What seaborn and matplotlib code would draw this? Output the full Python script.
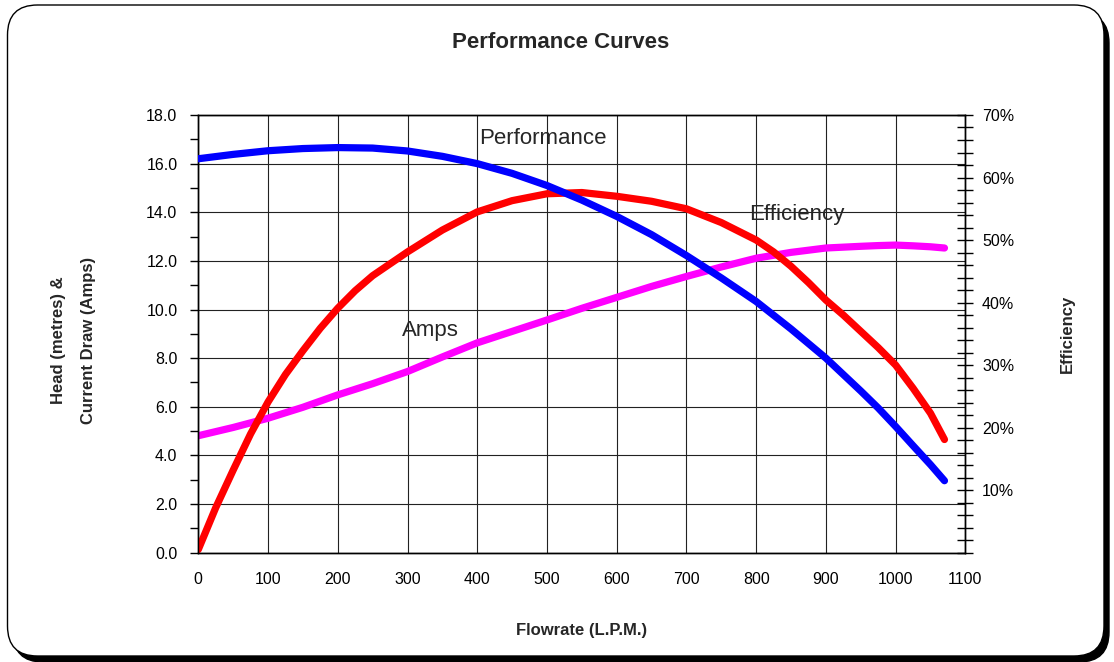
import numpy as np
import matplotlib
matplotlib.use("Agg")
import matplotlib.pyplot as plt
from matplotlib.patches import FancyBboxPatch
from matplotlib.ticker import MultipleLocator, FixedLocator
import seaborn as sns

# values
flow = [0, 50, 100, 150, 200, 250, 300, 350, 400, 450, 500, 550,
        600, 650, 700, 750, 800, 850, 900, 950, 975, 1000, 1025, 1050, 1070]
head = [16.20, 16.38, 16.53, 16.62, 16.66, 16.64, 16.52, 16.30, 16.00, 15.60, 15.10, 14.50,
        13.83, 13.08, 12.22, 11.30, 10.33, 9.20, 8.00, 6.65, 5.95, 5.19, 4.40, 3.62, 2.96]
amps = [4.81, 5.15, 5.53, 5.98, 6.49, 6.95, 7.45, 8.05, 8.63, 9.10, 9.57, 10.05,
        10.50, 10.95, 11.36, 11.75, 12.11, 12.35, 12.53, 12.60, 12.63, 12.65, 12.62, 12.58, 12.53]

# efficiency was read at a finer step where the curve bends hard
flow_eff = [0, 25, 50, 75, 100, 125, 150, 175, 200, 225, 250, 300, 350, 400, 450, 500, 550,
            600, 650, 700, 750, 800, 825, 850, 875, 900, 925, 950, 975, 1000, 1025, 1050, 1070]
efficiency = [0.5, 7.2, 13.2, 19.0, 24.1, 28.5, 32.3, 35.9, 39.1, 41.9, 44.3, 48.1, 51.6, 54.5,
              56.3, 57.4, 57.6, 57.0, 56.2, 55.0, 52.8, 50.0, 48.1, 45.8, 43.2, 40.4, 38.0,
              35.4, 32.8, 30.0, 26.3, 22.3, 18.1]

left_ticks = np.arange(0, 18.1, 2)
right_ticks = np.arange(10, 71, 10)
x_ticks = np.arange(0, 1101, 100)

sns.set_style("white")
plt.rcParams['font.family'] = ['Liberation Sans', 'DejaVu Sans']

fig = plt.figure(figsize=(11.14, 6.62), dpi=100)
fig.patch.set_facecolor("white")

# rounded frame with a dark drop shadow
shadow = FancyBboxPatch((0.13, 0.0), 10.96, 6.49, boxstyle="round,pad=0,rounding_size=0.3",
                        transform=fig.dpi_scale_trans, facecolor="black", edgecolor="black", zorder=-2)
frame = FancyBboxPatch((0.075, 0.06), 10.965, 6.51, boxstyle="round,pad=0,rounding_size=0.3",
                       transform=fig.dpi_scale_trans, facecolor="white", edgecolor="black",
                       linewidth=1, zorder=-1)
fig.patches.extend([shadow, frame])

line_kw = dict(linewidth=5.2, solid_capstyle="round", solid_joinstyle="round")

pos = [0.178, 0.1651, 0.6886, 0.6612]
ax = fig.add_axes(pos)
ax.patch.set_visible(False)

# amps on the main axis (bottom layer)
sns.lineplot(x=flow, y=amps, ax=ax, color="#ff00ff", **line_kw)

ax.set_xlim(0, 1100)
ax.set_ylim(0, 18)
ax.set_xticks(x_ticks)
ax.set_xticklabels([str(v) for v in x_ticks])
ax.xaxis.set_minor_locator(MultipleLocator(25))
ax.set_yticks(left_ticks)
ax.set_yticklabels([f"{v:.1f}" for v in left_ticks])
ax.yaxis.set_minor_locator(MultipleLocator(1))
ax.tick_params(axis="x", which="both", direction="inout", length=8, width=1, pad=10,
               labelsize=11.5, colors="black")
ax.tick_params(axis="y", which="both", direction="out", length=6, width=1, pad=9,
               labelsize=11.5, colors="black")
ax.grid(True, which="major", color="#222222", linewidth=0.8)
for s in ax.spines.values():
    s.set_color("black")
    s.set_linewidth(1)

ax.set_xlabel("Flowrate (L.P.M.)", fontsize=12, fontweight="bold")
ax.xaxis.set_label_coords(0.5, -0.160)
ax.set_ylabel("Head (metres) &\nCurrent Draw (Amps)", fontsize=12, fontweight="bold",
              linespacing=2.2)
ax.yaxis.set_label_coords(-0.134, 0.486)

# efficiency on the right axis
ax2 = ax.twinx()
sns.lineplot(x=flow_eff, y=efficiency, ax=ax2, color="#ff0000", **line_kw)
ax2.set_ylim(0, 70)
ax2.yaxis.set_major_locator(FixedLocator(right_ticks))
ax2.set_yticklabels([f"{int(v)}%" for v in right_ticks])
ax2.yaxis.set_minor_locator(MultipleLocator(2))
ax2.tick_params(axis="y", which="both", direction="inout", length=12, width=1, pad=6,
                labelsize=11.5, colors="black")
ax2.set_ylabel("Efficiency", fontsize=12, fontweight="bold")
ax2.yaxis.set_label_coords(1.123, 0.50)
for s in ax2.spines.values():
    s.set_color("black")
    s.set_linewidth(1)

# head on top layer
ax3 = fig.add_axes(pos, sharex=ax, sharey=ax)
sns.lineplot(x=flow, y=head, ax=ax3, color="#0000ff", **line_kw)
ax3.axis("off")

ax.text(494, 17.05, "Performance", ha="center", va="center", fontsize=16)
ax.text(858, 13.9, "Efficiency", ha="center", va="center", fontsize=16)
ax.text(333, 9.12, "Amps", ha="center", va="center", fontsize=16)

fig.text(0.5036, 1 - 42 / 662, "Performance Curves", ha="center", va="center",
         fontsize=16, fontweight="bold")

fig.savefig("out.png", dpi=100)
